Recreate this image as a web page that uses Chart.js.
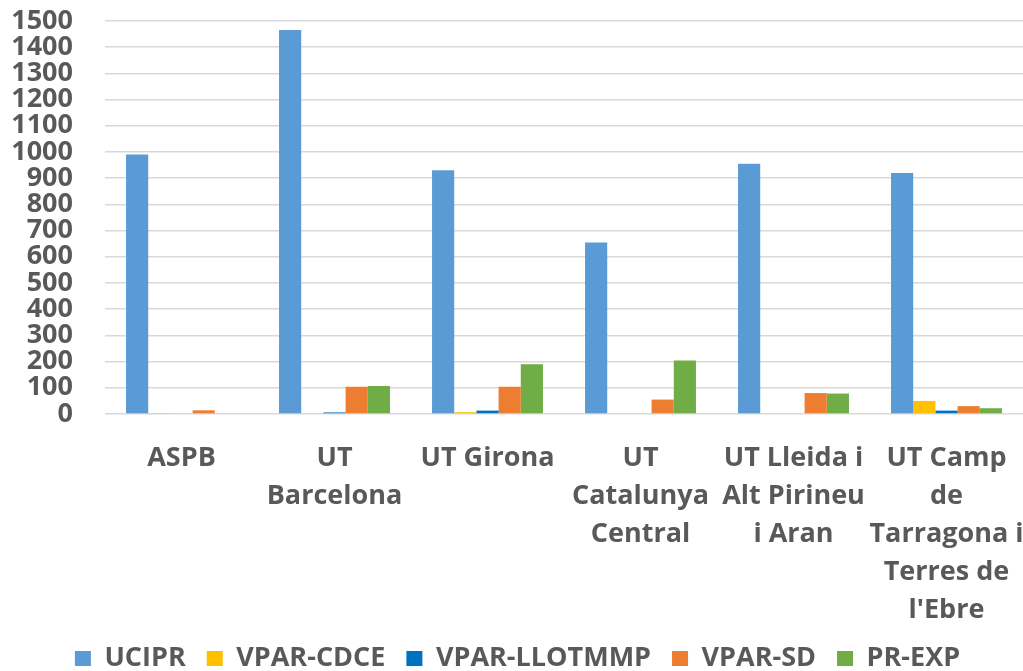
<!DOCTYPE html>
<html>
<head>
<meta charset="utf-8">
<script src="https://cdn.jsdelivr.net/npm/chart.js@4.4.1/dist/chart.umd.min.js"></script>
<style>
  html, body { margin: 0; padding: 0; background: #ffffff; overflow: hidden; }
  #wrap { width: 1023px; height: 671px; overflow: hidden; }
  canvas { display: block; }
</style>
</head>
<body>
<div id="wrap"><canvas id="c" width="1023" height="682"></canvas></div>
<script>
const categories = [
  'ASPB',
  ['UT', 'Barcelona'],
  'UT Girona',
  ['UT', 'Catalunya', 'Central'],
  ['UT Lleida i', 'Alt Pirineu', 'i Aran'],
  ['UT Camp', 'de', 'Tarragona i', 'Terres de', "l'Ebre"]
];
const seriesNames = ['UCIPR', 'VPAR-CDCE', 'VPAR-LLOTMMP', 'VPAR-SD', 'PR-EXP'];
const ucipr   = [990, 1466, 930, 655, 955, 920];
const vparCdce = [2, 3, 7, 0, 0, 50];
const vparLlot = [0, 6, 13, 0, 0, 13];
const vparSd  = [14, 104, 104, 55, 80, 30];
const prExp   = [0, 107, 190, 204, 78, 22];
const yTicks = [0, 100, 200, 300, 400, 500, 600, 700, 800, 900, 1000, 1100, 1200, 1300, 1400, 1500];

const colors = ['#5B9BD5', '#FFC000', '#0070C0', '#ED7D31', '#70AD47'];
const values = [ucipr, vparCdce, vparLlot, vparSd, prExp];

const FONT = "'Open Sans', 'DejaVu Sans', sans-serif";
const TXT = '#595959';

new Chart(document.getElementById('c'), {
  type: 'bar',
  data: {
    labels: categories,
    datasets: seriesNames.map((n, i) => ({
      label: n,
      data: values[i],
      backgroundColor: colors[i],
      borderWidth: 0,
      categoryPercentage: 0.725,
      barPercentage: 1.0
    }))
  },
  options: {
    responsive: false,
    animation: false,
    layout: { padding: { top: 21, left: 12, right: 0, bottom: 0 } },
    plugins: {
      tooltip: { enabled: false },
      legend: {
        position: 'bottom',
        labels: {
          color: TXT,
          font: { family: FONT, size: 27, weight: 'bold' },
          boxWidth: 16,
          boxHeight: 15,
          padding: 21
        }
      }
    },
    scales: {
      x: {
        grid: { display: false },
        border: { display: false },
        ticks: {
          color: TXT,
          maxRotation: 0,
          autoSkip: false,
          padding: 17,
          font: { family: FONT, size: 27, weight: 'bold', lineHeight: '38px' }
        },
        afterFit(scale) {
          scale.height = 210;
          scale.paddingLeft = 0;
          scale.paddingRight = 0;
        }
      },
      y: {
        min: 0,
        max: 1500,
        afterBuildTicks(scale) { scale.ticks = yTicks.map(v => ({ value: v })); },
        grid: { color: '#d9d9d9', lineWidth: 1.5, drawTicks: false },
        border: { display: false },
        ticks: {
          color: TXT,
          padding: 32,
          autoSkip: false,
          callback: (v) => String(v),
          font: { family: FONT, size: 27, weight: 'bold', lineHeight: 1.0 }
        },
        afterFit(scale) {
          scale.width = 93;
          scale.paddingTop = 0;
          scale.paddingBottom = 0;
        }
      }
    }
  }
});
</script>
</body>
</html>
